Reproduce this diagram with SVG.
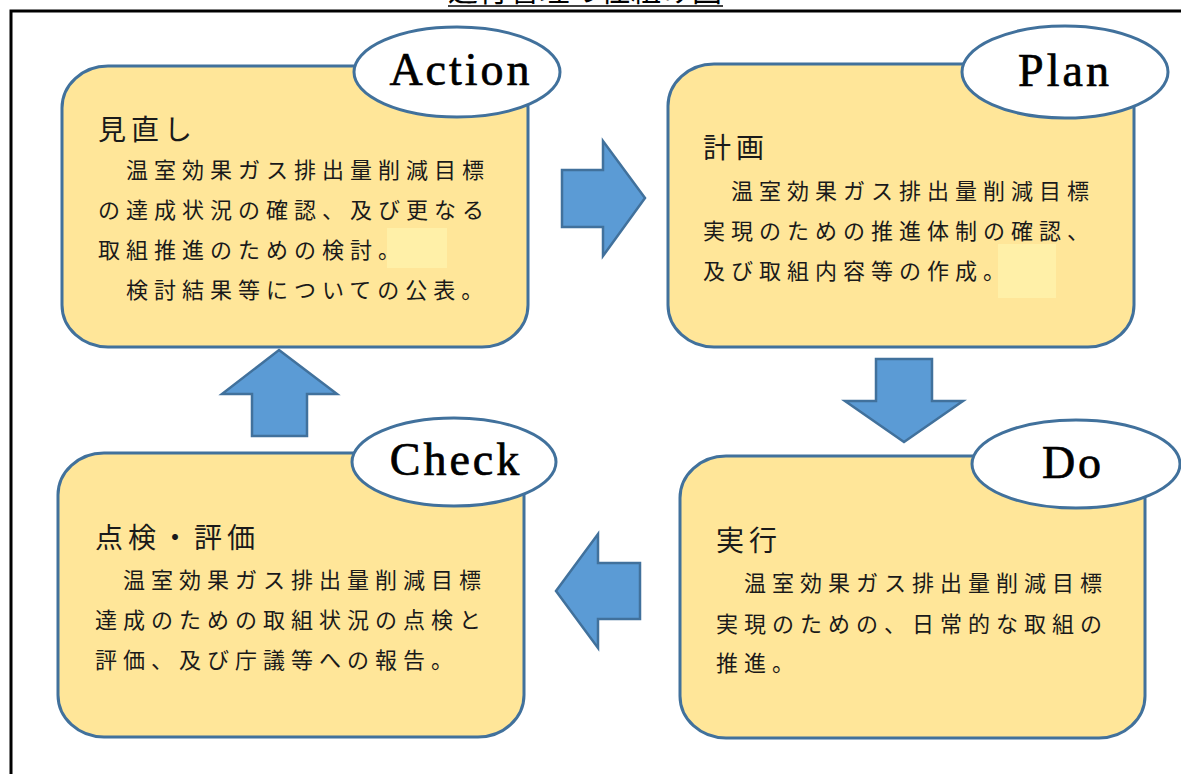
<svg xmlns="http://www.w3.org/2000/svg" width="1181" height="774" viewBox="0 0 1181 774">
  <style>
    .box { fill: #FFE699; stroke: #41719C; stroke-width: 3; }
    .oval { fill: #FFFFFF; stroke: #41719C; stroke-width: 3; }
    .arrow { fill: #5B9BD5; stroke: #41719C; stroke-width: 2.5; stroke-linejoin: miter; }
    .lat { font-family: "Liberation Serif", "DejaVu Serif", serif; font-size: 46px; letter-spacing: 3px; fill: #000; stroke: #000; stroke-width: 0.7px; text-anchor: middle; }
    .head { font-family: "Noto Sans CJK JP", sans-serif; font-size: 28px; letter-spacing: 5px; fill: #1a1a1a; }
    .body { font-family: "Noto Sans CJK JP", sans-serif; font-size: 22px; letter-spacing: 6px; fill: #1a1a1a; }
    .patch { fill: #FFF0A8; }
    .frame { stroke: #000; stroke-width: 3; fill: none; }
  </style>

  <rect width="1181" height="774" fill="#FFFFFF"/>

  <g id="frame">
    <text x="448" y="1" font-family="Noto Sans CJK JP, sans-serif" font-size="30" letter-spacing="0.5" fill="#000">進行管理の仕組み図</text>
    <line x1="448" y1="6" x2="723" y2="6" stroke="#000" stroke-width="1.5"/>
    <path class="frame" d="M11,774 L11,11 L1181,11"/>
  </g>

  <g id="connectors">
    <path class="arrow" d="M562,170 L603,170 L603,141 L645,198 L603,256 L603,227 L562,227 Z"/>
    <path class="arrow" d="M876,359 L932,359 L932,401 L963,401 L904,442 L845,401 L876,401 Z"/>
    <path class="arrow" d="M556,591 L598,534 L598,563 L640,563 L640,619 L598,619 L598,648 Z"/>
    <path class="arrow" d="M279,350 L337,394 L307,394 L307,436 L252,436 L252,394 L222,394 Z"/>
  </g>

  <g id="action">
    <rect class="box" x="62" y="66" width="466" height="281" rx="46" ry="42"/>
    <rect class="patch" x="387" y="228" width="60" height="40"/>
    <ellipse class="oval" cx="457" cy="72" rx="103" ry="45"/>
    <text class="lat" x="461" y="85">Action</text>
    <text class="head" x="98" y="140">見直し</text>
    <text class="body" x="98" y="178">　温室効果ガス排出量削減目標</text>
    <text class="body" x="98" y="218">の達成状況の確認、及び更なる</text>
    <text class="body" x="98" y="258">取組推進のための検討。</text>
    <text class="body" x="98" y="298">　検討結果等についての公表。</text>
  </g>

  <g id="plan">
    <rect class="box" x="668" y="64" width="466" height="283" rx="46" ry="42"/>
    <rect class="patch" x="998" y="244" width="58" height="54"/>
    <ellipse class="oval" cx="1065" cy="72" rx="103" ry="46"/>
    <text class="lat" x="1065" y="86">Plan</text>
    <text class="head" x="703" y="158">計画</text>
    <text class="body" x="703" y="199">　温室効果ガス排出量削減目標</text>
    <text class="body" x="703" y="239">実現のための推進体制の確認、</text>
    <text class="body" x="703" y="279">及び取組内容等の作成。</text>
  </g>

  <g id="do">
    <rect class="box" x="680" y="456" width="465" height="282" rx="46" ry="42"/>
    <ellipse class="oval" cx="1076" cy="464" rx="104" ry="44"/>
    <text class="lat" x="1073" y="478">Do</text>
    <text class="head" x="716" y="551">実行</text>
    <text class="body" x="716" y="591">　温室効果ガス排出量削減目標</text>
    <text class="body" x="716" y="632">実現のための、日常的な取組の</text>
    <text class="body" x="716" y="671">推進。</text>
  </g>

  <g id="check">
    <rect class="box" x="58" y="453" width="466" height="284" rx="46" ry="42"/>
    <ellipse class="oval" cx="454" cy="462" rx="102" ry="44"/>
    <text class="lat" x="456" y="475">Check</text>
    <text class="head" x="95" y="548">点検・評価</text>
    <text class="body" x="95" y="588">　温室効果ガス排出量削減目標</text>
    <text class="body" x="95" y="628">達成のための取組状況の点検と</text>
    <text class="body" x="95" y="668">評価、及び庁議等への報告。</text>
  </g>
</svg>
